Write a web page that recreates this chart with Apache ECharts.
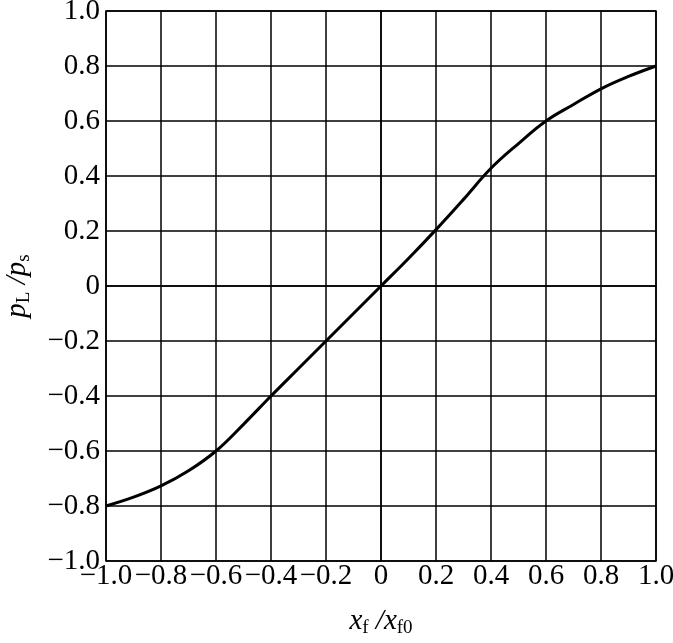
<!DOCTYPE html>
<html>
<head>
<meta charset="utf-8">
<script src="https://cdn.jsdelivr.net/npm/echarts@6/dist/echarts.min.js"></script>
<style>
    html, body { margin: 0; padding: 0; background: #fff; }
    #chart { width: 673px; height: 643px; }
</style>
</head>
<body>
<div id="chart"></div>
<script>
    // x_f / x_f0 values and the read-off p_L / p_s
    var xValues = [-1.0, -0.9, -0.8, -0.7, -0.6, -0.5, -0.4, -0.3, -0.2, -0.1, 0, 0.1, 0.2, 0.3, 0.4, 0.5, 0.6, 0.7, 0.8, 0.9, 1.0];
    var pRatio = [-0.8, -0.768, -0.727, -0.672, -0.6, -0.503, -0.4, -0.3, -0.2, -0.1, 0, 0.1, 0.205, 0.315, 0.428, 0.518, 0.6, 0.66, 0.717, 0.762, 0.8];

    var points = xValues.map(function (x, i) { return [x, pRatio[i]]; });

    function tickFmt(v) {
        if (Math.abs(v) < 1e-9) return '0';
        return v.toFixed(1).replace('-', '\u2212');
    }

    var serif = '"Liberation Serif", "DejaVu Serif", serif';

    var nameRich = {
        i: { fontFamily: serif, fontStyle: 'italic', fontSize: 29, color: '#000' },
        n: { fontFamily: serif, fontStyle: 'italic', fontSize: 29, color: '#000' },
        s: { fontFamily: serif, fontSize: 19, color: '#000', verticalAlign: 'bottom', padding: [14, 0, 0, 0] }
    };

    var option = {
        backgroundColor: '#fff',
        animation: false,
        grid: {
            left: 106,
            top: 11,
            width: 550,
            height: 550,
            outerBoundsMode: 'none',
            containLabel: false,
            show: true,
            borderColor: '#000',
            borderWidth: 1.5
        },
        xAxis: {
            type: 'value',
            min: -1,
            max: 1,
            interval: 0.2,
            name: '{i|x}{s|f}{n| /}{i|x}{s|f0}',
            nameLocation: 'middle',
            nameGap: 44,
            nameTextStyle: { rich: nameRich },
            axisLine: { lineStyle: { color: '#000', width: 1.5 } },
            axisTick: { show: false },
            axisLabel: {
                formatter: tickFmt,
                fontFamily: serif,
                fontSize: 29,
                color: '#000',
                margin: 1,
                hideOverlap: false
            },
            splitLine: { show: true, lineStyle: { color: '#000', width: 1.5 } }
        },
        yAxis: {
            type: 'value',
            min: -1,
            max: 1,
            interval: 0.2,
            name: '{i|p}{s|L}{n| /}{i|p}{s|s}',
            nameLocation: 'middle',
            nameGap: 72,
            nameTextStyle: { rich: nameRich },
            axisLine: { lineStyle: { color: '#000', width: 1.5 } },
            axisTick: { show: false },
            axisLabel: {
                formatter: tickFmt,
                fontFamily: serif,
                fontSize: 29,
                color: '#000',
                margin: 6,
                hideOverlap: false
            },
            splitLine: { show: true, lineStyle: { color: '#000', width: 1.5 } }
        },
        series: [{
            type: 'line',
            data: points,
            smooth: 0.4,
            showSymbol: false,
            lineStyle: { color: '#000', width: 3 }
        }]
    };

    var chart = echarts.init(document.getElementById('chart'));
    chart.setOption(option);
</script>
</body>
</html>
